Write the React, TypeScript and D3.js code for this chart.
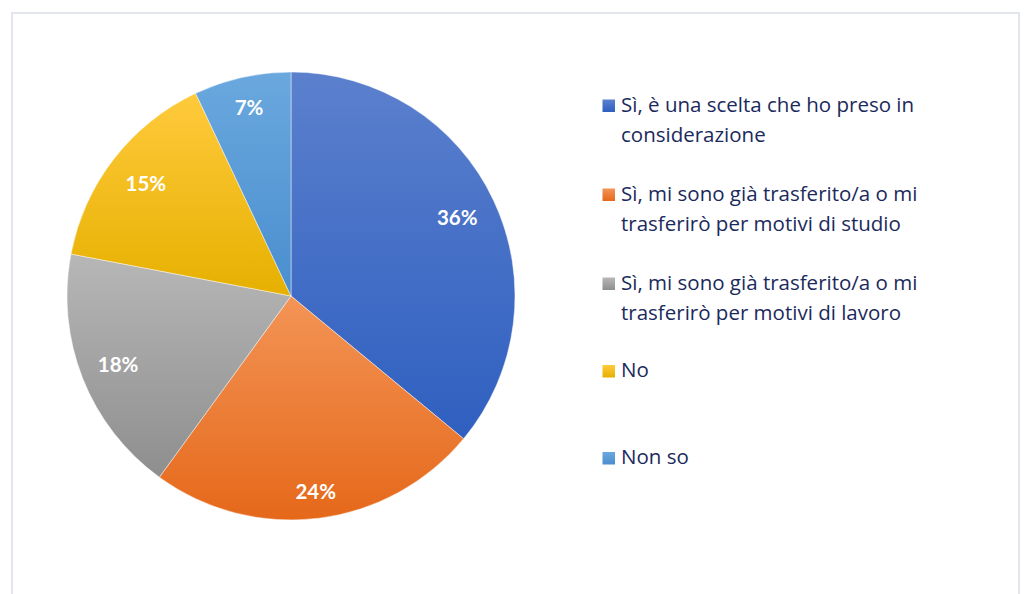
import React from "react";
import * as d3 from "d3";

const categories: string[] = [
  "Sì, è una scelta che ho preso in considerazione",
  "Sì, mi sono già trasferito/a o mi trasferirò per motivi di studio",
  "Sì, mi sono già trasferito/a o mi trasferirò per motivi di lavoro",
  "No",
  "Non so",
];
const legendLines: string[][] = [
  ["Sì, è una scelta che ho preso in", "considerazione"],
  ["Sì, mi sono già trasferito/a o mi", "trasferirò per motivi di studio"],
  ["Sì, mi sono già trasferito/a o mi", "trasferirò per motivi di lavoro"],
  ["No"],
  ["Non so"],
];
const values: number[] = [36, 24, 18, 15, 7];
const gradTop: string[] = ["#5b80cd", "#f39456", "#b7b7b7", "#ffca3c", "#6aa8de"];
const gradBottom: string[] = ["#2f5fc0", "#e5681a", "#8e8e8e", "#e6b000", "#4a8ecf"];
// per-slice radial position of the percentage labels (fraction of radius)
const labelRadius: number[] = [0.82, 0.88, 0.83, 0.82, 0.86];

const W = 1025;
const H = 594;
const cx = 291;
const cy = 296;
const R = 224;

export default function App() {
  const pie = d3
    .pie<number>()
    .sort(null)
    .value((d) => d);
  const arcs = pie(values);
  const arcGen = d3.arc<d3.PieArcDatum<number>>().innerRadius(0).outerRadius(R);

  const legendX = 602.5;
  // baseline of the first line of each legend entry
  const itemBase = [111.5, 200.5, 289.5, 377, 464];
  const lineH = 30;

  return (
    <svg
      width={W}
      height={H}
      style={{ position: "absolute", left: 0, top: 0 }}
      fontFamily="'Open Sans', Lato, sans-serif"
    >
      <defs>
        {values.map((_, i) => (
          <linearGradient key={i} id={`g${i}`} x1="0" y1="0" x2="0" y2="1">
            <stop offset="0" stopColor={gradTop[i]} />
            <stop offset="1" stopColor={gradBottom[i]} />
          </linearGradient>
        ))}
      </defs>
      <rect x={0} y={0} width={W} height={H} fill="#ffffff" />
      <rect
        x={12}
        y={13}
        width={1007}
        height={600}
        fill="none"
        stroke="#e2e6ec"
        strokeWidth={2}
      />
      <g transform={`translate(${cx},${cy})`}>
        {arcs.map((a, i) => (
          <path
            key={i}
            d={arcGen(a) || ""}
            fill={`url(#g${i})`}
            stroke="#ffffff"
            strokeOpacity={0.6}
            strokeWidth={0.75}
          />
        ))}
        {arcs.map((a, i) => {
          const r = R * labelRadius[i];
          const [x, y] = d3
            .arc<d3.PieArcDatum<number>>()
            .innerRadius(r)
            .outerRadius(r)
            .centroid(a);
          return (
            <text
              key={i}
              x={x}
              y={y}
              dy="0.35em"
              textAnchor="middle"
              fill="#ffffff"
              fontWeight={700}
              fontSize={20.5}
              fontFamily="Lato, sans-serif"
            >
              {`${values[i]}%`}
            </text>
          );
        })}
      </g>
      <g>
        {categories.map((c, i) => (
          <g key={c}>
            <rect
              x={legendX}
              y={itemBase[i] - 12}
              width={12.5}
              height={12.5}
              fill={`url(#g${i})`}
            />
            {legendLines[i].map((ln, j) => (
              <text
                key={j}
                x={621}
                y={itemBase[i] + j * lineH}
                fill="#1b2a5c"
                fontSize={20.5}
              >
                {ln}
              </text>
            ))}
          </g>
        ))}
      </g>
    </svg>
  );
}
